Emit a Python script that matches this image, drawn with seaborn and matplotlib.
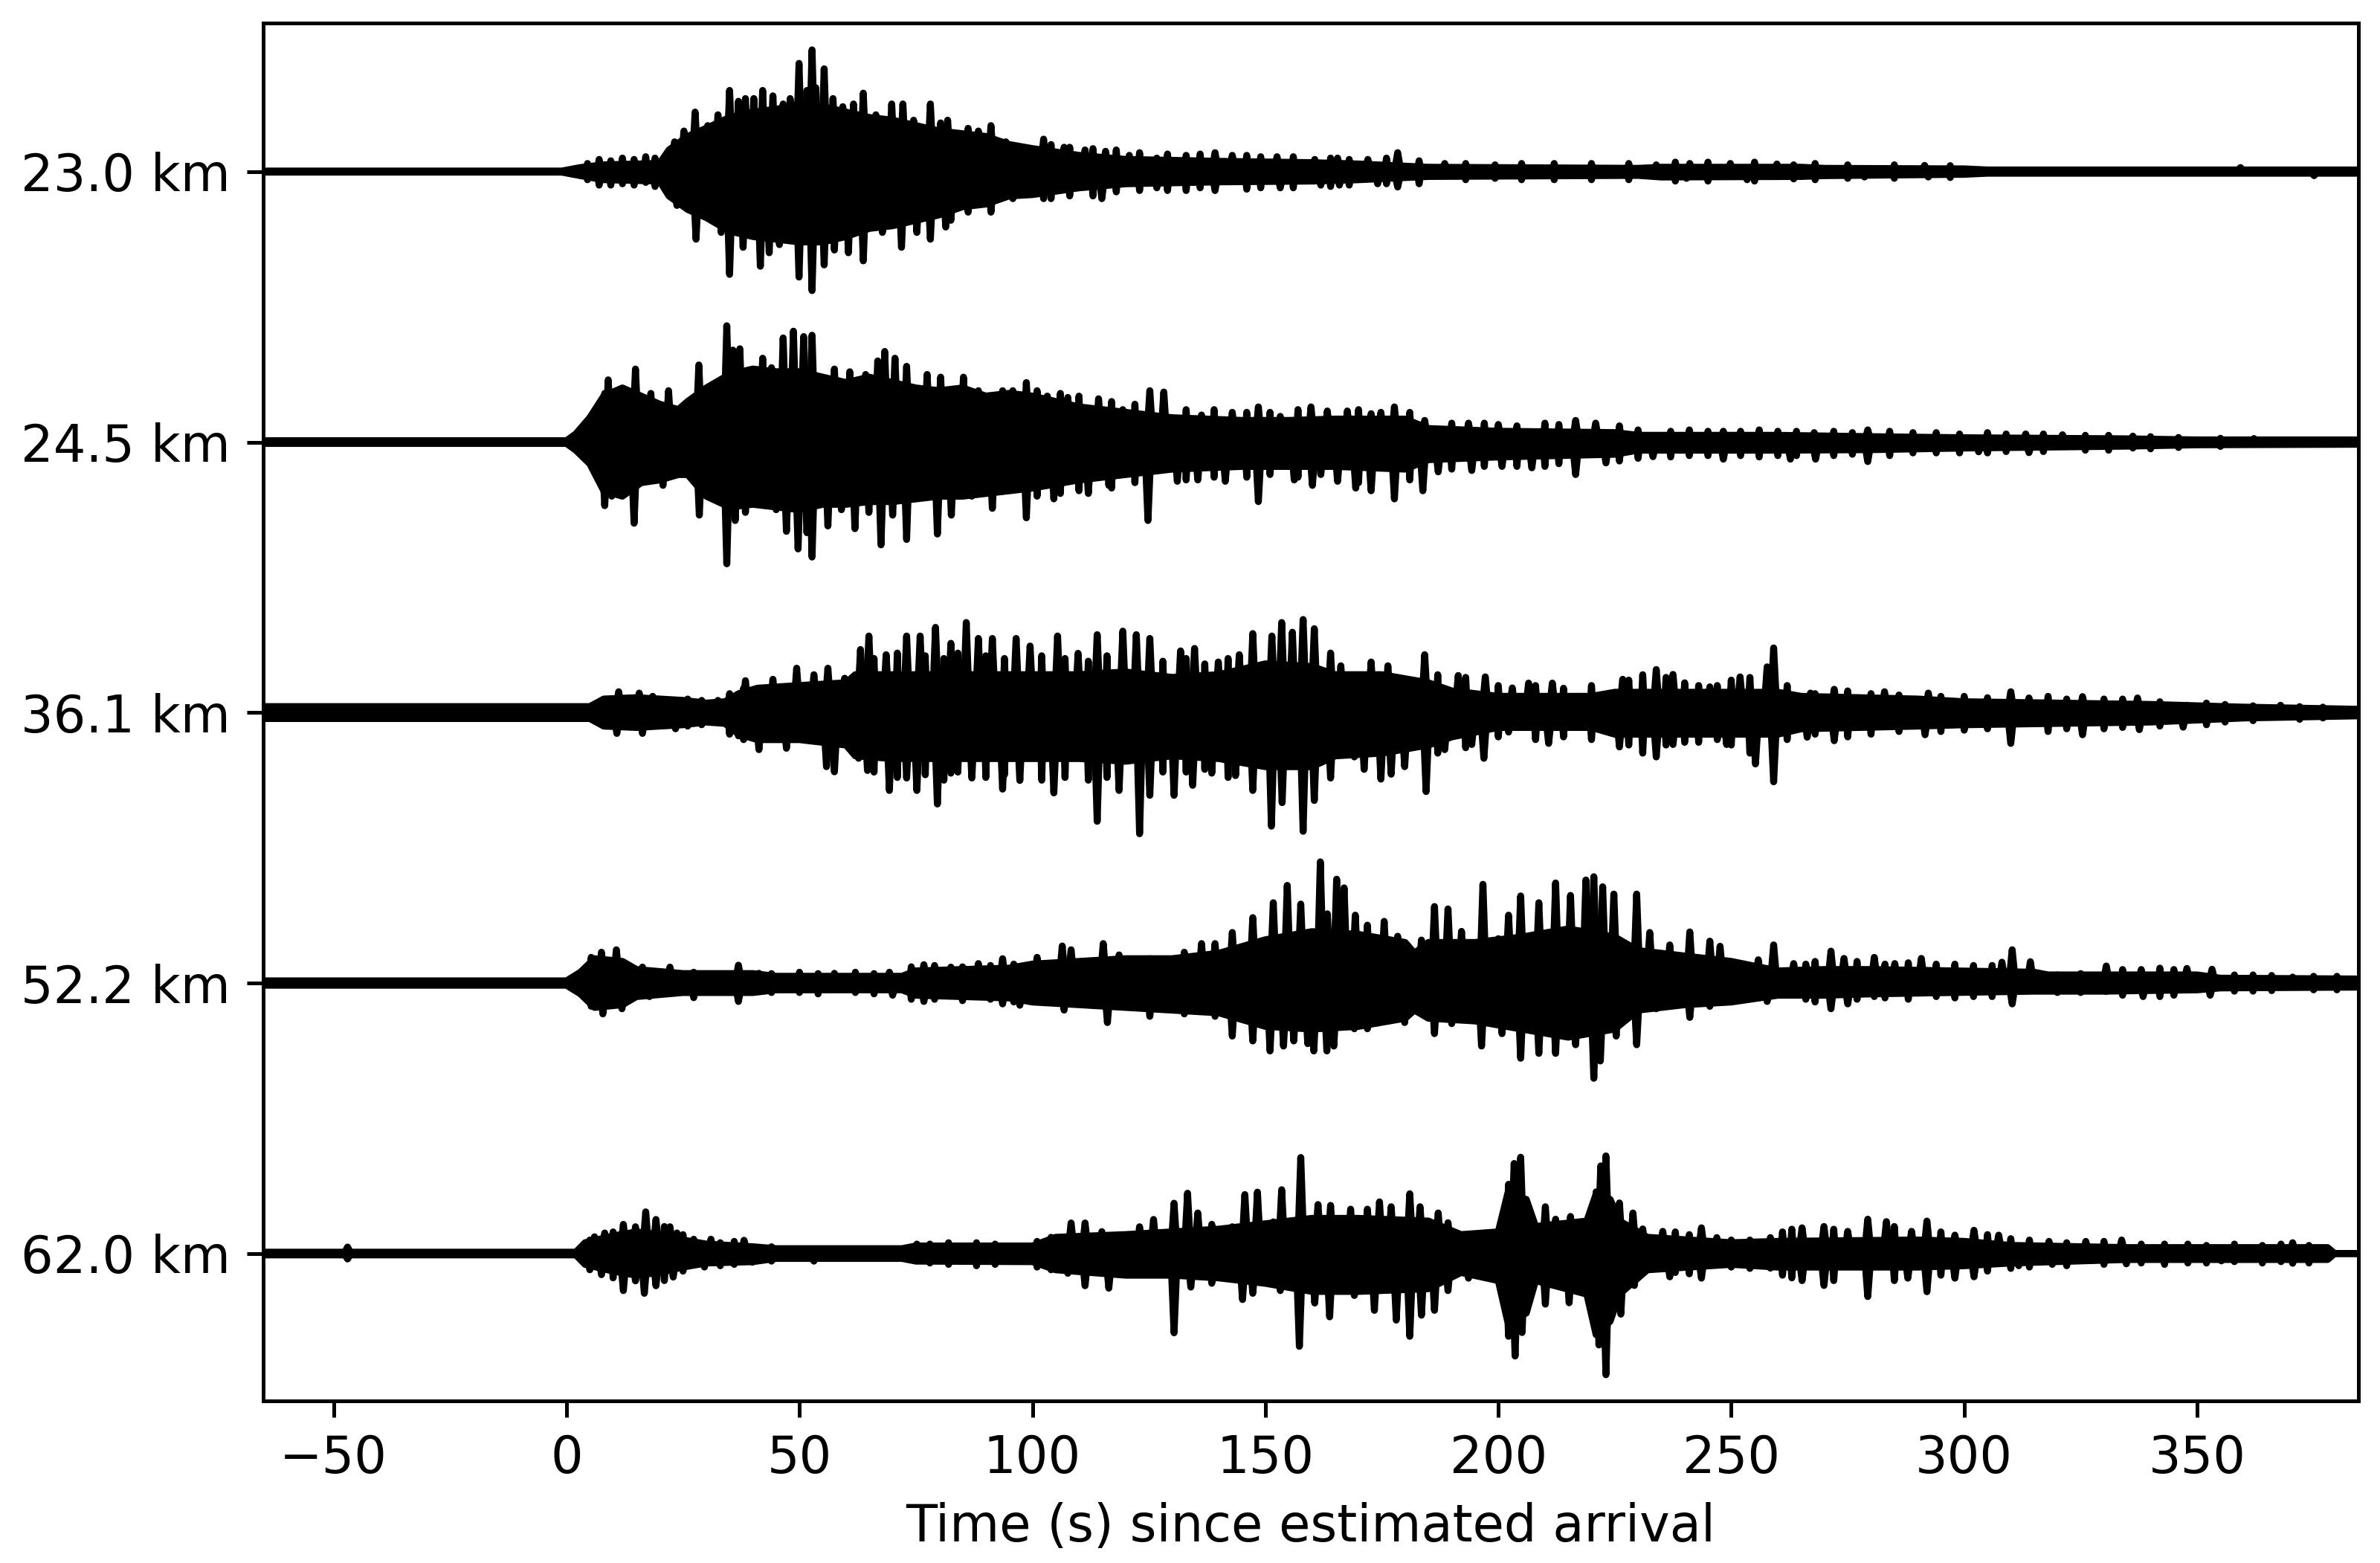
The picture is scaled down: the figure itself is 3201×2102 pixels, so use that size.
import numpy as np
import pandas as pd
import seaborn as sns
import matplotlib.pyplot as plt

# Station labels, top to bottom
distances = ["23.0 km", "24.5 km", "36.1 km", "52.2 km", "62.0 km"]

# Each trace: a "body" envelope (solid part, knots in s), the larger
# peaks that stick out above / below it, and smaller paired wiggles.
# Amplitudes are in units of the trace spacing.

# ---- 23.0 km ----
t23_body_t = [-65, -1, 3, 8, 20, 22, 26, 30, 35, 40, 45, 50, 55, 60, 65, 70, 75, 80, 85, 90,
              95, 100, 110, 120, 140, 160, 170, 185, 230, 235, 265, 270, 300, 305, 385]
t23_body_up = [.002, .002, .015, .025, .03, .08, .13, .16, .2, .22, .23, .25, .24, .22, .2, .19, .17, .15, .14, .13,
               .1, .085, .06, .045, .038, .033, .028, .016, .012, .016, .016, .012, .01, .006, .006]
t23_body_dn = [.002, .002, .015, .03, .035, .09, .14, .17, .22, .24, .25, .26, .26, .24, .21, .2, .18, .16, .13, .12,
               .09, .085, .06, .045, .038, .035, .03, .018, .014, .02, .018, .015, .01, .006, .006]
t23_up_t = [23.2, 25.2, 27.6, 30.3, 32.5, 35.0, 36.9, 38.4, 40.2, 42.1, 44.3, 46.5, 48.0, 49.9, 51.6, 52.7,
            53.5, 55.3, 57.2, 59.3, 61.6, 63.7, 66.4, 69.8, 72.2, 74.5, 78.1, 80.3, 81.8, 86.2, 88.4, 91.1,
            94.3, 97.3, 102.4, 106.8, 111.3, 115.7, 120.8, 126.7, 139.2, 142.9, 152.5, 160.6, 165.5, 172.0,
            178.4, 188.5, 199.3, 233.9, 241.1, 249.8, 259.8, 263.4, 291.5, 359.3]
t23_up = [.11, .15, .22, .17, .21, .30, .26, .27, .27, .30, .28, .25, .27, .40, .30, .45,
          .31, .38, .27, .24, .25, .29, .21, .25, .25, .19, .25, .18, .19, .16, .15, .17,
          .11, .09, .12, .09, .08, .075, .06, .05, .07, .06, .055, .045, .05, .045,
          .07, .03, .025, .025, .03, .03, .028, .025, .023, .015]
t23_dn_t = [23.7, 27.8, 30.7, 33.2, 35.0, 37.9, 41.6, 43.5, 45.7, 48.0, 49.9, 52.7, 55.3, 57.5, 60.5, 63.7,
            67.8, 71.9, 75.2, 78.1, 81.4, 82.5, 86.2, 91.1, 95.8, 102.4, 114.9, 126.7, 139.2, 153.2, 161.9,
            165.9, 174.1, 178.4, 199.3, 240.4, 253.4, 263.4, 278.6, 292.3, 375.1]
t23_dn = [.125, .25, .17, .225, .38, .28, .35, .30, .27, .25, .39, .44, .345, .29, .30, .33,
          .225, .28, .225, .25, .205, .18, .15, .15, .10, .10, .10, .06, .07, .06, .05,
          .05, .045, .057, .025, .025, .03, .027, .02, .02, .015]
t23_fine_t = [4.5, 7, 9.5, 12, 14.5, 17, 19, 104, 108, 113, 118, 123, 129, 133, 136, 146, 149, 156, 164, 168,
              176, 183, 193, 205, 212, 220, 228, 238, 245, 255, 268, 275, 285, 297]
t23_fine_up = [.03, .045, .04, .05, .045, .055, .05, .1, .09, .085, .08, .07, .065, .06, .065, .06, .055, .055, .05,
               .045, .05, .04, .03, .03, .03, .03, .03, .035, .035, .035, .03, .025, .025, .022]
t23_fine_dn = [.03, .05, .05, .045, .05, .04, .055, .1, .09, .09, .075, .07, .07, .07, .06, .065, .06, .06, .055,
               .05, .045, .045, .03, .03, .03, .03, .03, .035, .035, .035, .03, .025, .025, .022]

# ---- 24.5 km ----
t24_body_t = [-65, 0, 2, 5, 8, 12, 16, 20, 24, 26, 30, 35, 40, 45, 50, 55, 60, 65, 70, 75,
              80, 85, 90, 95, 100, 110, 120, 130, 145, 155, 165, 180, 185, 200, 225, 230, 260, 280, 300, 335,
              350, 385]
t24_body_up = [.005, .005, .03, .09, .17, .2, .17, .14, .12, .15, .2, .25, .27, .26, .26, .24, .22, .24, .22, .2,
               .19, .2, .17, .18, .17, .13, .11, .09, .08, .08, .085, .085, .05, .04, .035, .025, .025, .02, .016,
               .012, .008, .008]
t24_body_dn = [.005, .005, .03, .08, .18, .2, .15, .14, .12, .12, .2, .24, .23, .24, .25, .23, .23, .22, .22, .21,
               .2, .2, .19, .18, .17, .14, .12, .1, .09, .09, .09, .1, .065, .055, .045, .03, .03, .028, .022,
               .015, .01, .008]
t24_up_t = [5.7, 8.2, 8.95, 11.2, 14.8, 18.1, 21.9, 25.1, 28.4, 31.8, 34.4, 35.7, 37.2, 42.1, 44.0, 46.5,
            48.7, 50.9, 52.7, 57.5, 60.8, 64.2, 66.8, 68.3, 70.5, 73.0, 77.4, 80.3, 85.2, 88.4, 93.6, 95.8,
            98.7, 103.2, 107.6, 114.2, 119.4, 125.2, 128.2, 136.3, 142.9, 148.5, 153.2, 159.8, 163.3, 167.6,
            172.7, 174.8, 177.7, 184.2, 193.6, 200.0, 216.6, 220.9, 248.3, 267.8, 279.3, 313.2, 321.1, 336.2,
            362.2]
t24_up = [.10, .18, .23, .19, .27, .18, .19, .11, .285, .21, .43, .34, .345, .31, .275, .385,
          .41, .39, .395, .27, .26, .25, .30, .335, .31, .28, .25, .24, .24, .19, .19, .19,
          .22, .17, .165, .16, .12, .19, .185, .10, .11, .13, .095, .13, .115, .115,
          .105, .11, .13, .08, .07, .065, .08, .07, .04, .035, .045, .03, .027, .022,
          .013]
t24_dn_t = [6.0, 8.2, 9.7, 11.9, 14.5, 17.8, 20.7, 23.7, 28.5, 31.8, 34.4, 36.2, 38.4, 42.1, 45.0, 47.2,
            49.7, 51.6, 52.7, 56.1, 59.0, 61.9, 64.9, 67.5, 70.0, 73.0, 79.6, 82.6, 87.0, 91.4, 98.7, 104.6,
            112.0, 116.4, 124.8, 131.1, 135.5, 141.4, 148.5, 156.2, 160.1, 161.9, 165.5, 169.4, 172.7, 177.7,
            183.8, 187.1, 194.3, 200.8, 207.2, 216.6, 223.1, 233.2, 248.3, 262.7, 268.1, 279.3, 303.1, 313.9,
            336.2]
t24_dn = [.07, .235, .20, .16, .30, .14, .16, .12, .27, .18, .45, .29, .26, .20, .25, .33,
          .395, .335, .425, .31, .25, .32, .26, .38, .27, .36, .34, .27, .20, .245, .28, .21,
          .19, .16, .29, .145, .14, .145, .22, .14, .16, .12, .145, .17, .18, .21,
          .18, .11, .105, .09, .095, .12, .077, .054, .063, .063, .063, .072, .036, .039,
          .022]
t24_fine_t = [101, 106, 110, 117, 122, 133, 139, 146, 151, 157, 170, 181, 190, 197, 204, 210, 213, 226, 230, 237,
              241, 245, 252, 256, 260, 264, 272, 276, 284, 289, 294, 299, 305, 309, 317, 326, 331, 340, 346, 355]
t24_fine_up = [.19, .18, .17, .15, .14, .12, .12, .11, .11, .12, .12, .11, .07, .07, .06, .07, .065, .06, .045, .04,
               .045, .04, .04, .045, .04, .04, .04, .035, .04, .035, .035, .03, .035, .03, .03, .025, .025, .02,
               .017, .014]
t24_fine_dn = [.2, .19, .18, .17, .15, .14, .13, .13, .12, .13, .15, .14, .1, .09, .09, .09, .08, .07, .06, .055,
               .05, .05, .05, .055, .05, .05, .05, .045, .05, .04, .04, .04, .04, .035, .035, .03, .03, .025,
               .02, .016]

# ---- 36.1 km ----
t36_body_t = [-65, 5, 8, 15, 25, 30, 34, 37, 41, 50, 60, 62, 70, 80, 90, 100, 110, 120, 130, 140,
              150, 160, 165, 175, 185, 190, 200, 220, 225, 240, 250, 260, 265, 290, 300, 340, 360, 385]
t36_body_up = [.022, .022, .05, .055, .045, .035, .04, .07, .09, .1, .11, .14, .14, .14, .14, .14, .14, .15, .13, .14,
               .18, .17, .14, .14, .11, .08, .06, .06, .075, .075, .075, .075, .06, .05, .04, .03, .02, .012]
t36_body_dn = [.022, .022, .05, .055, .045, .035, .04, .08, .1, .1, .12, .16, .17, .17, .17, .17, .17, .18, .16, .17,
               .2, .2, .16, .15, .12, .09, .055, .055, .08, .08, .08, .08, .06, .05, .045, .035, .02, .012]
t36_up_t = [11.2, 15.6, 18.5, 32.5, 38.4, 44.3, 49.4, 53.1, 56.1, 59.7, 63.1, 64.9, 68.6, 73.0, 75.9, 79.2,
            82.5, 85.8, 88.4, 91.4, 96.5, 99.5, 105.4, 109.8, 113.9, 119.4, 122.3, 125.2, 131.8, 134.8, 139.9,
            144.4, 147.3, 151.4, 153.5, 155.8, 158.1, 160.5, 164.0, 166.2, 172.7, 176.3, 184.2, 191.4, 197.2,
            203.0, 206.5, 211.6, 217.3, 226.7, 233.9, 237.5, 245.4, 251.9, 257.7, 259.1, 267.0, 272.1, 282.9,
            292.3, 310.0, 313.9, 325.4, 337.2, 347.8, 367.9]
t36_up = [.077, .072, .06, .045, .118, .123, .164, .14, .164, .127, .233, .283, .214, .283, .283, .315,
          .256, .333, .274, .274, .274, .246, .283, .219, .288, .301, .288, .274, .228, .237, .187,
          .214, .292, .283, .333, .297, .344, .31, .22, .173, .187, .173, .214, .137, .132,
          .091, .109, .109, .059, .123, .159, .141, .095, .132, .169, .239, .072, .086, .077,
          .072, .077, .054, .059, .054, .027, .027]
t36_dn_t = [10.8, 16.3, 23.4, 36.9, 41.3, 47.2, 55.8, 57.5, 62.7, 64.6, 69.3, 73.0, 75.2, 79.6, 82.5, 87.0,
            93.6, 97.3, 104.6, 113.9, 118.6, 123.0, 125.2, 130.4, 134.4, 138.5, 143.6, 147.3, 151.3, 153.6,
            158.1, 160.5, 164.0, 169.1, 171.2, 174.8, 177.0, 179.9, 184.5, 188.5, 194.3, 196.9, 202.2, 210.8,
            226.0, 233.9, 237.5, 249.0, 255.2, 259.1, 266.3, 272.1, 291.6, 310.0, 325.4, 337.6, 347.0]
t36_dn = [.077, .077, .06, .086, .137, .132, .20, .219, .169, .214, .288, .242, .288, .338, .224, .242,
          .283, .251, .297, .402, .288, .448, .306, .306, .269, .224, .233, .288, .42, .333,
          .439, .325, .242, .164, .21, .246, .228, .20, .292, .137, .118, .169, .072, .114,
          .127, .164, .118, .118, .19, .256, .091, .104, .082, .114, .082, .063, .054]
t36_fine_t = [26, 29, 35, 38, 66, 71, 77, 81, 84, 90, 94, 102, 107, 112, 116, 128, 133, 137, 142, 187,
              193, 200, 208, 214, 220, 228, 231, 236, 240, 243, 247, 250, 254, 262, 268, 275, 280, 286, 295, 300,
              305, 318, 322, 330, 334, 342, 352, 356, 362, 372, 377]
t36_fine_up = [.05, .045, .07, .09, .2, .22, .21, .2, .22, .21, .2, .21, .2, .19, .21, .19, .2, .18, .2, .14,
               .13, .1, .1, .09, .1, .12, .14, .13, .11, .1, .1, .12, .13, .1, .07, .08, .07, .065, .06, .06,
               .055, .06, .05, .05, .05, .04, .035, .03, .025, .022, .02]
t36_fine_dn = [.05, .045, .08, .1, .22, .24, .23, .25, .22, .24, .23, .25, .24, .25, .24, .22, .22, .21, .24, .15,
               .13, .09, .1, .09, .1, .12, .15, .12, .11, .11, .1, .12, .15, .1, .08, .09, .08, .07, .07, .065,
               .06, .07, .06, .06, .055, .05, .045, .035, .03, .025, .02]

# ---- 52.2 km ----
t52_body_t = [-65, 0, 3, 6, 12, 15, 25, 40, 45, 72, 75, 95, 100, 110, 120, 130, 140, 150, 160, 170,
              180, 182, 185, 195, 205, 215, 225, 230, 240, 250, 260, 270, 280, 315, 318, 330, 350, 355, 385]
t52_body_up = [.008, .008, .04, .09, .08, .05, .035, .035, .025, .025, .045, .055, .07, .08, .09, .09, .11, .16, .19,
               .18, .15, .11, .15, .15, .17, .2, .17, .12, .1, .08, .045, .05, .05, .04, .03, .03, .03, .018, .015]
t52_body_dn = [.008, .008, .04, .09, .08, .05, .035, .035, .025, .025, .045, .055, .07, .08, .09, .1, .11, .16, .17,
               .16, .13, .1, .13, .14, .17, .2, .17, .1, .08, .07, .045, .045, .04, .03, .03, .03, .025, .018, .015]
t52_up_t = [5.3, 7.5, 10.7, 16.3, 22.2, 27.3, 36.9, 41.3, 57.5, 69.3, 76.7, 82.5, 88.4, 93.6, 101.0, 106.4,
            108.3, 115.2, 118.6, 125.2, 132.6, 136.3, 139.2, 142.9, 147.3, 151.7, 154.7, 157.6, 161.8, 163.3,
            165.3, 166.9, 169.3, 171.9, 175.5, 178.4, 183.5, 186.3, 189.2, 192.1, 196.7, 200.0, 202.2, 204.8,
            208.7, 212.3, 215.5, 218.8, 220.5, 222.4, 224.8, 229.7, 232.5, 236.8, 241.1, 245.4, 247.6, 255.8,
            259.1, 263.4, 271.4, 274.2, 280.7, 285.1, 290.8, 308.1, 310.3, 314.2, 330.5, 338.0, 347.8, 353.2,
            370.5]
t52_up = [.095, .114, .123, .059, .059, .04, .066, .036, .036, .04, .068, .059, .072, .09, .095, .137,
          .123, .146, .104, .09, .114, .146, .146, .187, .242, .297, .361, .292, .448, .256,
          .384, .352, .251, .214, .228, .173, .159, .283, .274, .191, .365, .164, .251, .322,
          .297, .37, .324, .381, .393, .356, .329, .329, .187, .141, .189, .155, .136, .086,
          .141, .072, .118, .091, .095, .072, .091, .077, .123, .079, .063, .05, .054, .051,
          .022]
t52_dn_t = [5.3, 7.8, 11.9, 17.8, 27.3, 36.9, 70.0, 76.7, 93.6, 97.3, 106.8, 116.1, 125.2, 132.6, 139.2, 142.9,
            147.3, 151.0, 153.9, 156.1, 159.1, 160.4, 163.2, 164.7, 169.1, 171.9, 179.9, 182.7, 186.3, 190.0,
            196.4, 200.8, 204.8, 208.7, 212.3, 216.6, 220.5, 221.9, 225.3, 229.7, 233.9, 241.1, 245.4, 257.7,
            271.4, 275.0, 280.7, 310.3, 330.5, 338.4, 352.8]
t52_dn = [.086, .114, .095, .05, .054, .068, .045, .068, .077, .082, .10, .146, .123, .114, .123, .196,
          .214, .251, .233, .214, .224, .251, .251, .233, .169, .169, .146, .086, .187, .15,
          .233, .187, .278, .26, .26, .228, .352, .288, .196, .228, .095, .127, .086, .068,
          .095, .077, .05, .077, .031, .05, .045]
t52_fine_t = [44, 50, 54, 62, 66, 74, 79, 85, 91, 96, 252, 266, 268, 277, 283, 288, 294, 298, 302, 306,
              320, 325, 334, 342, 345, 358, 362, 366, 375, 380]
t52_fine_up = [.035, .04, .035, .04, .035, .06, .065, .06, .065, .07, .07, .07, .08, .08, .07, .075, .07, .07, .065,
               .065, .03, .035, .05, .055, .05, .03, .03, .028, .025, .025]
t52_fine_dn = [.035, .035, .04, .035, .04, .06, .06, .065, .06, .07, .06, .06, .07, .06, .055, .06, .05, .055, .05,
               .05, .035, .035, .045, .05, .045, .03, .03, .028, .025, .025]

# ---- 62.0 km ----
t62_body_t = [-65, 2, 4, 10, 15, 20, 25, 30, 40, 45, 72, 75, 100, 105, 120, 130, 140, 150, 160, 170,
              185, 192, 200, 202, 206, 208, 219, 221, 224, 226, 232, 250, 260, 290, 300, 310, 335, 378, 379.5, 385]
t62_body_up = [.005, .005, .04, .065, .08, .07, .05, .035, .025, .018, .018, .028, .028, .06, .07, .08, .09, .11, .13,
               .13, .12, .07, .08, .22, .2, .1, .12, .22, .2, .12, .06, .04, .045, .05, .045, .03, .022, .022, 0, 0]
t62_body_dn = [.005, .005, .04, .065, .08, .07, .05, .035, .03, .018, .018, .028, .03, .06, .08, .08, .09, .11, .14,
               .14, .13, .07, .1, .25, .22, .1, .15, .3, .25, .15, .06, .04, .05, .05, .045, .035, .022, .022, 0, 0]
t62_up_t = [-47.0, 6.0, 8.2, 12.2, 14.8, 17.0, 19.2, 22.2, 23.7, 27.3, 31.0, 38.1, 75.2, 84.0, 97.3, 108.3,
            111.3, 114.9, 117.9, 123.0, 126.0, 130.4, 133.3, 135.5, 138.5, 142.9, 145.6, 148.3, 151.7, 153.5,
            157.6, 161.3, 164.0, 168.3, 171.9, 174.5, 177.0, 181.0, 183.2, 187.1, 189.2, 195.0, 200.0, 202.2,
            203.4, 204.8, 210.1, 212.3, 215.5, 218.0, 221.0, 222.0, 223.1, 226.0, 228.9, 231.0, 235.3, 243.6,
            246.9, 258.4, 265.2, 269.9, 275.0, 279.3, 283.3, 288.7, 292.0, 298.0, 302.1, 307.4, 318.2, 326.1,
            333.8, 370.5]
t62_up = [.024, .062, .076, .108, .099, .154, .126, .099, .076, .053, .053, .049, .035, .028, .026, .113,
          .113, .081, .062, .099, .126, .186, .223, .15, .108, .099, .218, .227, .117, .236,
          .355, .181, .178, .164, .164, .191, .173, .221, .173, .15, .114, .063, .082, .256,
          .333, .356, .173, .127, .137, .091, .228, .324, .361, .187, .15, .091, .082, .095,
          .059, .059, .095, .10, .082, .127, .118, .082, .12, .068, .086, .068, .045, .045,
          .05, .04]
t62_dn_t = [-47.0, 7.5, 12.2, 14.8, 16.7, 19.2, 22.9, 29.6, 39.9, 53.1, 107.6, 111.3, 116.4, 122.3, 130.4, 134.0,
            138.5, 145.1, 147.3, 153.2, 157.3, 160.6, 163.8, 169.1, 173.4, 178.1, 181.0, 183.5, 186.3, 189.2,
            193.6, 202.2, 203.6, 205.1, 210.1, 215.2, 220.2, 221.6, 223.1, 226.3, 229.2, 236.8, 243.6, 258.4,
            265.2, 269.9, 279.3, 287.9, 292.0, 298.0, 302.1, 311.7, 318.9, 334.8, 355.2, 370.5]
t62_dn = [.02, .078, .137, .101, .147, .119, .087, .05, .032, .028, .073, .119, .128, .073, .293, .124,
          .11, .17, .147, .137, .343, .183, .234, .155, .21, .246, .306, .228, .21, .137,
          .091, .306, .379, .292, .187, .182, .21, .338, .448, .224, .118, .086, .091, .054,
          .10, .118, .159, .091, .141, .091, .086, .045, .04, .038, .027, .036]
t62_fine_t = [5, 10, 21, 25, 33, 36, 44, 78, 82, 88, 92, 101, 104, 238, 241, 250, 254, 261, 263, 272,
              285, 295, 305, 310, 314, 322, 330, 338, 343, 348, 352, 358, 364, 368, 374]
t62_fine_up = [.05, .08, .1, .07, .04, .045, .025, .035, .04, .04, .035, .045, .06, .08, .07, .05, .05, .08, .09,
               .09, .1, .08, .07, .055, .05, .04, .045, .035, .035, .035, .03, .035, .03, .035, .03]
t62_fine_dn = [.06, .09, .1, .065, .045, .04, .028, .035, .04, .045, .04, .05, .06, .07, .075, .05, .055, .08, .09,
               .1, .1, .08, .065, .055, .05, .045, .04, .035, .04, .035, .035, .03, .035, .03, .035]

traces = [
    (t23_body_t, t23_body_up, t23_body_dn, t23_up_t, t23_up, t23_dn_t, t23_dn, t23_fine_t, t23_fine_up, t23_fine_dn),
    (t24_body_t, t24_body_up, t24_body_dn, t24_up_t, t24_up, t24_dn_t, t24_dn, t24_fine_t, t24_fine_up, t24_fine_dn),
    (t36_body_t, t36_body_up, t36_body_dn, t36_up_t, t36_up, t36_dn_t, t36_dn, t36_fine_t, t36_fine_up, t36_fine_dn),
    (t52_body_t, t52_body_up, t52_body_dn, t52_up_t, t52_up, t52_dn_t, t52_dn, t52_fine_t, t52_fine_up, t52_fine_dn),
    (t62_body_t, t62_body_up, t62_body_dn, t62_up_t, t62_up, t62_dn_t, t62_dn, t62_fine_t, t62_fine_up, t62_fine_dn),
]

# half width (s) of the base of a peak stroke
peak_half = 0.7
fine_half = 0.4

plt.rcParams['font.size'] = 11

fig, ax = plt.subplots(figsize=(3201 / 450, 2102 / 450), dpi=450)
fig.subplots_adjust(left=0.1106, right=0.9909, bottom=0.1035, top=0.9854)


def add_peak(rows, name, t, y0, y1, half):
    rows.append((name, t - half, y0))
    rows.append((name, t, y1))
    rows.append((name, t + half, y0))


rows = []
for i, (bt, bu, bd, ut, ua, dt, da, ft, fu, fd) in enumerate(traces):
    off = -i
    # solid body of the trace
    ax.fill_between(bt, off + np.array(bu), off - np.array(bd), color="black", lw=0)
    for t, a in zip(bt, bu):
        rows.append((f"{i}_top", t, off + a))
    for t, a in zip(bt, bd):
        rows.append((f"{i}_bot", t, off - a))
    # peaks: narrow spikes rising from the trace centre
    for k, (t, a) in enumerate(zip(ut, ua)):
        add_peak(rows, f"{i}_u{k}", t, off, off + a, peak_half)
    for k, (t, a) in enumerate(zip(dt, da)):
        add_peak(rows, f"{i}_d{k}", t, off, off - a, peak_half)
    for k, (t, a, b) in enumerate(zip(ft, fu, fd)):
        add_peak(rows, f"{i}_fu{k}", t, off, off + a, fine_half)
        add_peak(rows, f"{i}_fd{k}", t, off, off - b, fine_half)

df = pd.DataFrame(rows, columns=["unit", "time", "amp"])
sns.lineplot(data=df, x="time", y="amp", units="unit", estimator=None, sort=False,
             color="black", lw=1.5, legend=False, ax=ax)

ax.set_xlim(-65.1, 384.6)
ax.set_ylim(-4.546, 0.55)
ax.set_yticks([-i for i in range(len(distances))])
ax.set_yticklabels(distances)
ax.set_xticks([-50, 0, 50, 100, 150, 200, 250, 300, 350])
ax.set_xlabel("Time (s) since estimated arrival")
ax.set_ylabel("")

fig.savefig("out.png", dpi=450)
